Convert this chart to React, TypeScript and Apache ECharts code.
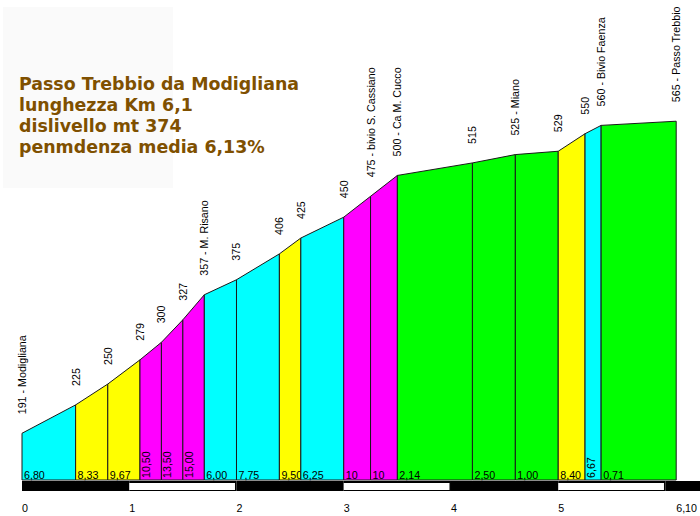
import React, { useEffect, useRef } from "react";
import * as echarts from "echarts";

// Profile points: distance (km) and altitude (m)
const kmMarks = [0, 0.5, 0.8, 1.1, 1.3, 1.5, 1.7, 2.0, 2.4, 2.6, 3.0, 3.25, 3.5, 4.2, 4.6, 5.0, 5.25, 5.4, 6.1];
const elevations = [191, 225, 250, 279, 300, 327, 357, 375, 406, 425, 450, 475, 500, 515, 525, 529, 550, 560, 565];
const placeNames = [
  "Modigliana", "", "", "", "", "", "M. Risano", "", "", "", "",
  "bivio S. Cassiano", "Ca M. Cucco", "", "Miano", "", "", "Bivio Faenza", "Passo Trebbio",
];
// Gradient (%) of each stretch between two consecutive points
const gradeLabels = [
  "6,80", "8,33", "9,67", "10,50", "13,50", "15,00", "6,00", "7,75", "9,50",
  "6,25", "10", "10", "2,14", "2,50", "1,00", "8,40", "6,67", "0,71",
];
const kmTickValues = [0, 1, 2, 3, 4, 5, 6.1];
const titleLines = [
  "Passo Trebbio da Modigliana",
  "lunghezza Km 6,1",
  "dislivello mt 374",
  "penmdenza media 6,13%",
];

const Y_MIN = 135;
const Y_MAX = 600;
const LABEL_FONT = '10.7px "Liberation Sans", Arial, sans-serif';

function parseGrade(s: string): number {
  return parseFloat(s.replace(",", "."));
}

function gradeColor(g: number): string {
  if (g < 3) return "#00ff00";
  if (g < 8) return "#00ffff";
  if (g < 10) return "#ffff00";
  return "#ff00ff";
}

let measureCtx: CanvasRenderingContext2D | null = null;
function textWidth(t: string): number {
  if (!measureCtx) {
    measureCtx = document.createElement("canvas").getContext("2d");
  }
  if (!measureCtx) return t.length * 6;
  measureCtx.font = LABEL_FONT;
  return measureCtx.measureText(t).width;
}

export default function App() {
  const ref = useRef<HTMLDivElement>(null);

  useEffect(() => {
    if (!ref.current) return;
    const chart = echarts.init(ref.current, null, { renderer: "svg" });

    const segments = gradeLabels.map((_, i) => [kmMarks[i], kmMarks[i + 1], elevations[i], elevations[i + 1]]);
    const points = kmMarks.map((km, i) => [km, elevations[i]]);
    const lastKm = kmMarks[kmMarks.length - 1];
    const bands: number[][] = [];
    for (let k = 0; k < Math.ceil(lastKm); k++) {
      bands.push([k, Math.min(k + 1, lastKm)]);
    }

    chart.setOption({
      animation: false,
      backgroundColor: "#ffffff",
      grid: { left: 22, right: 23.5, top: 92, bottom: 36 },
      xAxis: {
        type: "value",
        min: 0,
        max: lastKm,
        axisLine: { show: false },
        axisTick: { show: false },
        splitLine: { show: false },
        axisLabel: {
          customValues: kmTickValues,
          align: "left",
          margin: 22,
          color: "#000",
          fontSize: 10.7,
          fontFamily: '"Liberation Sans", Arial, sans-serif',
          formatter: (v: number) => (Number.isInteger(v) ? String(v) : v.toFixed(2).replace(".", ",")),
        },
      },
      yAxis: { type: "value", min: Y_MIN, max: Y_MAX, show: false },
      graphic: [
        { type: "rect", shape: { x: 3, y: 7, width: 170, height: 181 }, style: { fill: "#fafafa" }, z: -1 },
        ...titleLines.map((line, i) => ({
          type: "text",
          x: 19,
          y: 83.5 + i * 21.3,
          style: {
            text: line,
            fill: "#7f5000",
            font: 'bold 17.4px "DejaVu Sans", Verdana, sans-serif',
            align: "left",
            verticalAlign: "middle",
            textAlign: "left",
            textVerticalAlign: "middle",
          },
        })),
      ],
      series: [
        {
          type: "custom",
          clip: false,
          data: segments,
          renderItem: (params: any, api: any) => {
            const x0 = api.value(0);
            const x1 = api.value(1);
            const pA = api.coord([x0, Y_MIN]);
            const pB = api.coord([x0, api.value(2)]);
            const pC = api.coord([x1, api.value(3)]);
            const pD = api.coord([x1, Y_MIN]);
            const label = gradeLabels[params.dataIndex];
            const segW = pD[0] - pA[0];
            const vertical = textWidth(label) > segW;
            const textEl = vertical
              ? {
                  type: "text",
                  x: pA[0] + 6,
                  y: pA[1] - 2,
                  rotation: Math.PI / 2,
                  style: { text: label, font: LABEL_FONT, fill: "#000", align: "left", verticalAlign: "middle" },
                }
              : {
                  type: "text",
                  x: pA[0] + 2,
                  y: pA[1] + 0.5,
                  style: { text: label, font: LABEL_FONT, fill: "#000", align: "left", verticalAlign: "bottom" },
                };
            return {
              type: "group",
              children: [
                {
                  type: "polygon",
                  shape: { points: [pA, pB, pC, pD] },
                  style: { fill: gradeColor(parseGrade(label)), stroke: "#1a1a1a", lineWidth: 1 },
                },
                textEl,
              ],
            };
          },
        },
        {
          type: "custom",
          clip: false,
          data: points,
          renderItem: (params: any, api: any) => {
            const p = api.coord([api.value(0), api.value(1)]);
            const name = placeNames[params.dataIndex];
            const elev = elevations[params.dataIndex];
            const label = name ? `${elev} - ${name}` : `${elev}`;
            return {
              type: "text",
              x: p[0],
              y: p[1] - 19,
              rotation: Math.PI / 2,
              style: { text: label, font: LABEL_FONT, fill: "#000", align: "left", verticalAlign: "middle" },
            };
          },
        },
        {
          type: "custom",
          clip: false,
          data: bands,
          renderItem: (params: any, api: any) => {
            const a = api.coord([api.value(0), Y_MIN]);
            const b = api.coord([api.value(1), Y_MIN]);
            const isLast = params.dataIndex === bands.length - 1;
            const xEnd = isLast ? api.getWidth() : b[0];
            const top = a[1] + 1;
            const children: any[] = [
              { type: "rect", shape: { x: a[0], y: top, width: xEnd - a[0], height: 10 }, style: { fill: "#000" } },
            ];
            if (params.dataIndex % 2 === 1) {
              children.push({
                type: "rect",
                shape: { x: a[0], y: top + 2, width: xEnd - a[0] - 1.5, height: 7 },
                style: { fill: "#fff" },
              });
            }
            return { type: "group", children };
          },
        },
      ],
    });

    return () => chart.dispose();
  }, []);

  return (
    <div
      ref={ref}
      style={{ position: "fixed", left: 0, top: 0, width: 700, height: 516, background: "#fff" }}
    />
  );
}
